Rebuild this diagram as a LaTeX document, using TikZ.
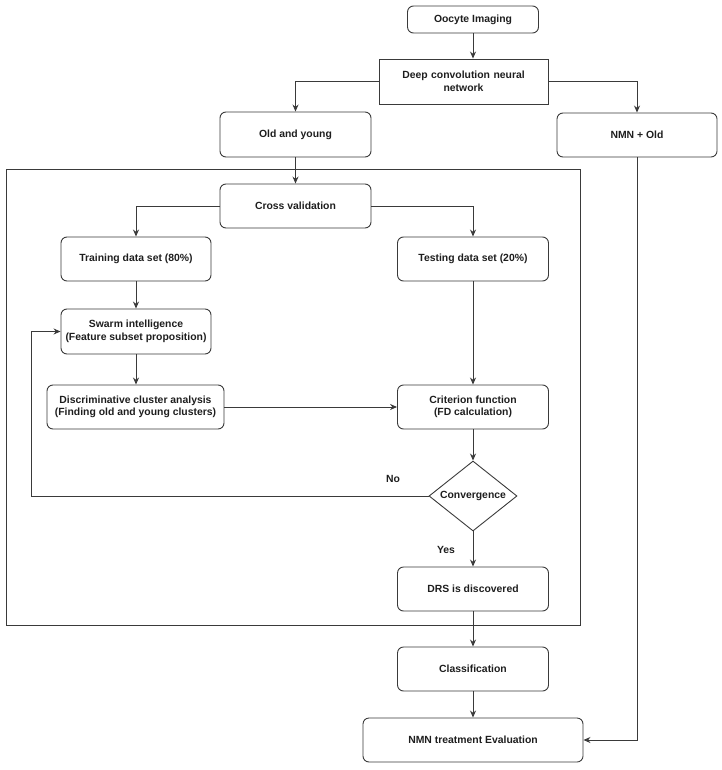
\documentclass[tikz,border=0pt]{standalone}
\usepackage{fontspec}
\setmainfont{Liberation Sans}
\usetikzlibrary{shapes.geometric,arrows.meta}
\definecolor{ln}{HTML}{3A3A3A}
\definecolor{tx}{HTML}{1E1E1E}
\begin{document}
\begin{tikzpicture}[x=1pt,y=-1pt,
  every node/.style={font=\fontsize{10.4}{12.5}\selectfont\bfseries, text=tx, align=center},
  rbox/.style={draw=ln, line width=0.9pt, rounded corners=6pt, minimum height=44pt, inner sep=2pt},
  sbox/.style={draw=ln, line width=0.9pt, minimum height=45pt, inner sep=2pt},
  dbox/.style={draw=ln, line width=0.9pt, shape=diamond, minimum width=88pt, minimum height=70pt, inner sep=0pt, shape aspect=1.257},
  conn/.style={draw=ln, line width=0.9pt, -{Stealth[length=7pt,width=6pt]}},
  plain/.style={draw=ln, line width=0.9pt}
]
\useasboundingbox (0,0) rectangle (721,770);
\draw[plain] (6,169) rectangle (580,625);

\node[rbox, minimum width=131pt, minimum height=27pt] (ooc) at (473,19.5) {Oocyte Imaging};
\node[sbox, minimum width=169pt, text width=150pt] (dcnn) at (463.5,81.5) {Deep convolution neural\\network};
\node[rbox, minimum width=151pt, minimum height=45pt] (oy) at (295.5,134.5) {Old and young};
\node[rbox, minimum width=160pt] (nmn) at (637,135) {NMN + Old};
\node[rbox, minimum width=151pt] (cv) at (295.5,206) {Cross validation};
\node[rbox, minimum width=150pt] (train) at (136,259) {Training data set (80\%)};
\node[rbox, minimum width=151pt] (test) at (473,259) {Testing data set (20\%)};
\node[rbox, minimum width=150pt, minimum height=45pt] (swarm) at (136,331.5) {Swarm intelligence\\(Feature subset proposition)};
\node[rbox, minimum width=177pt] (disc) at (135.5,407) {Discriminative cluster analysis\\(Finding old and young clusters)};
\node[rbox, minimum width=151pt] (crit) at (473,407) {Criterion function\\(FD calculation)};
\node[dbox] (conv) at (473,496) {Convergence};
\node[rbox, minimum width=151pt] (drs) at (473,589) {DRS is discovered};
\node[rbox, minimum width=151pt] (cls) at (473,669) {Classification};
\node[rbox, minimum width=220pt] (eval) at (473,740) {NMN treatment Evaluation};

\node (no) at (393,479) {No};
\node (yes) at (446,550) {Yes};

\coordinate (fb) at (31,496);

\draw[conn] (ooc.south) -- (ooc.south |- dcnn.north);
\draw[conn] (dcnn.west) -| (oy.north);
\draw[conn] (dcnn.east) -| (nmn.north);
\draw[conn] (oy.south) -- (cv.north);
\draw[conn] (cv.west) -| (train.north);
\draw[conn] (cv.east) -| (test.north);
\draw[conn] (train.south) -- (swarm.north);
\draw[conn] (swarm.south) -- (swarm.south |- disc.north);
\draw[conn] (test.south) -- (crit.north);
\draw[conn] (disc.east) -- (crit.west);
\draw[conn] (crit.south) -- (conv.north);
\draw[conn] (conv.west) -- (fb) |- (swarm.west);
\draw[conn] (conv.south) -- (drs.north);
\draw[conn] (drs.south) -- (cls.north);
\draw[conn] (cls.south) -- (eval.north);
\draw[conn] (nmn.south) |- (eval.east);
\end{tikzpicture}
\end{document}
